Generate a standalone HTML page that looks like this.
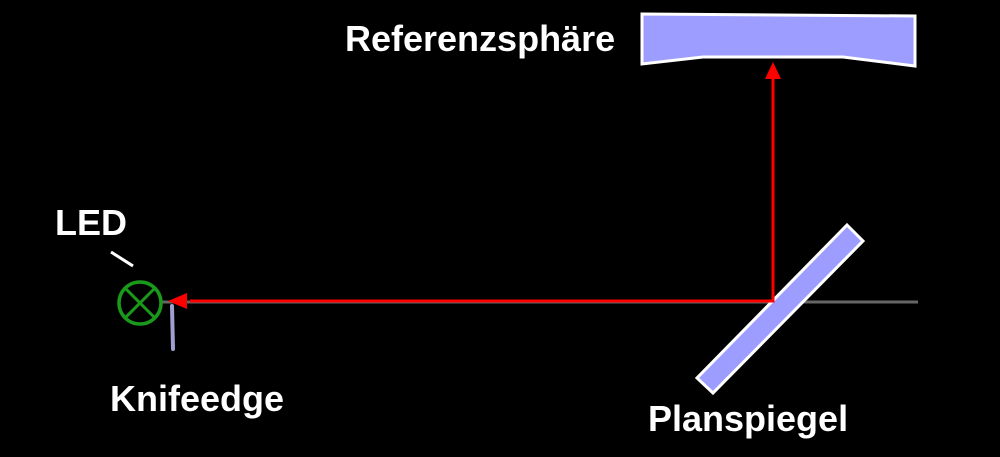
<!DOCTYPE html>
<html><head><meta charset="utf-8"><style>
html,body{margin:0;padding:0;background:#000;}
svg{display:block}
text{font-family:"Liberation Sans",sans-serif;font-weight:bold;fill:#fff;font-size:36px}
</style></head><body>
<svg width="1000" height="457" viewBox="0 0 1000 457">
<line x1="162" y1="302" x2="918" y2="302" stroke="#666" stroke-width="3"/>
<polygon points="642,14 915,16 915,66 843,57 703,57 642,64" fill="#9d9dff" stroke="#fff" stroke-width="3"/>
<polygon points="847,225 863,241 713,393 697,378" fill="#9d9dff" stroke="#fff" stroke-width="3"/>
<polyline points="190,301 773,301 773,78" fill="none" stroke="#f00" stroke-width="3"/>
<polygon points="773,62 765,79 781,79" fill="#f00"/>
<polygon points="168,301 187,293 187,309" fill="#f00"/>
<line x1="172" y1="306" x2="173" y2="349" stroke="#a0a0d0" stroke-width="4" stroke-linecap="round"/>
<circle cx="140" cy="303" r="21" fill="none" stroke="#1a9a1a" stroke-width="3.5"/>
<line x1="125" y1="288" x2="155" y2="318" stroke="#1a9a1a" stroke-width="3"/>
<line x1="155" y1="288" x2="125" y2="318" stroke="#1a9a1a" stroke-width="3"/>
<line x1="111" y1="252" x2="133" y2="266" stroke="#fff" stroke-width="3"/>
<text x="345" y="51">Referenzsphäre</text>
<text x="55" y="235">LED</text>
<text x="110" y="411">Knifeedge</text>
<text x="648" y="431">Planspiegel</text>
</svg>
</body></html>
